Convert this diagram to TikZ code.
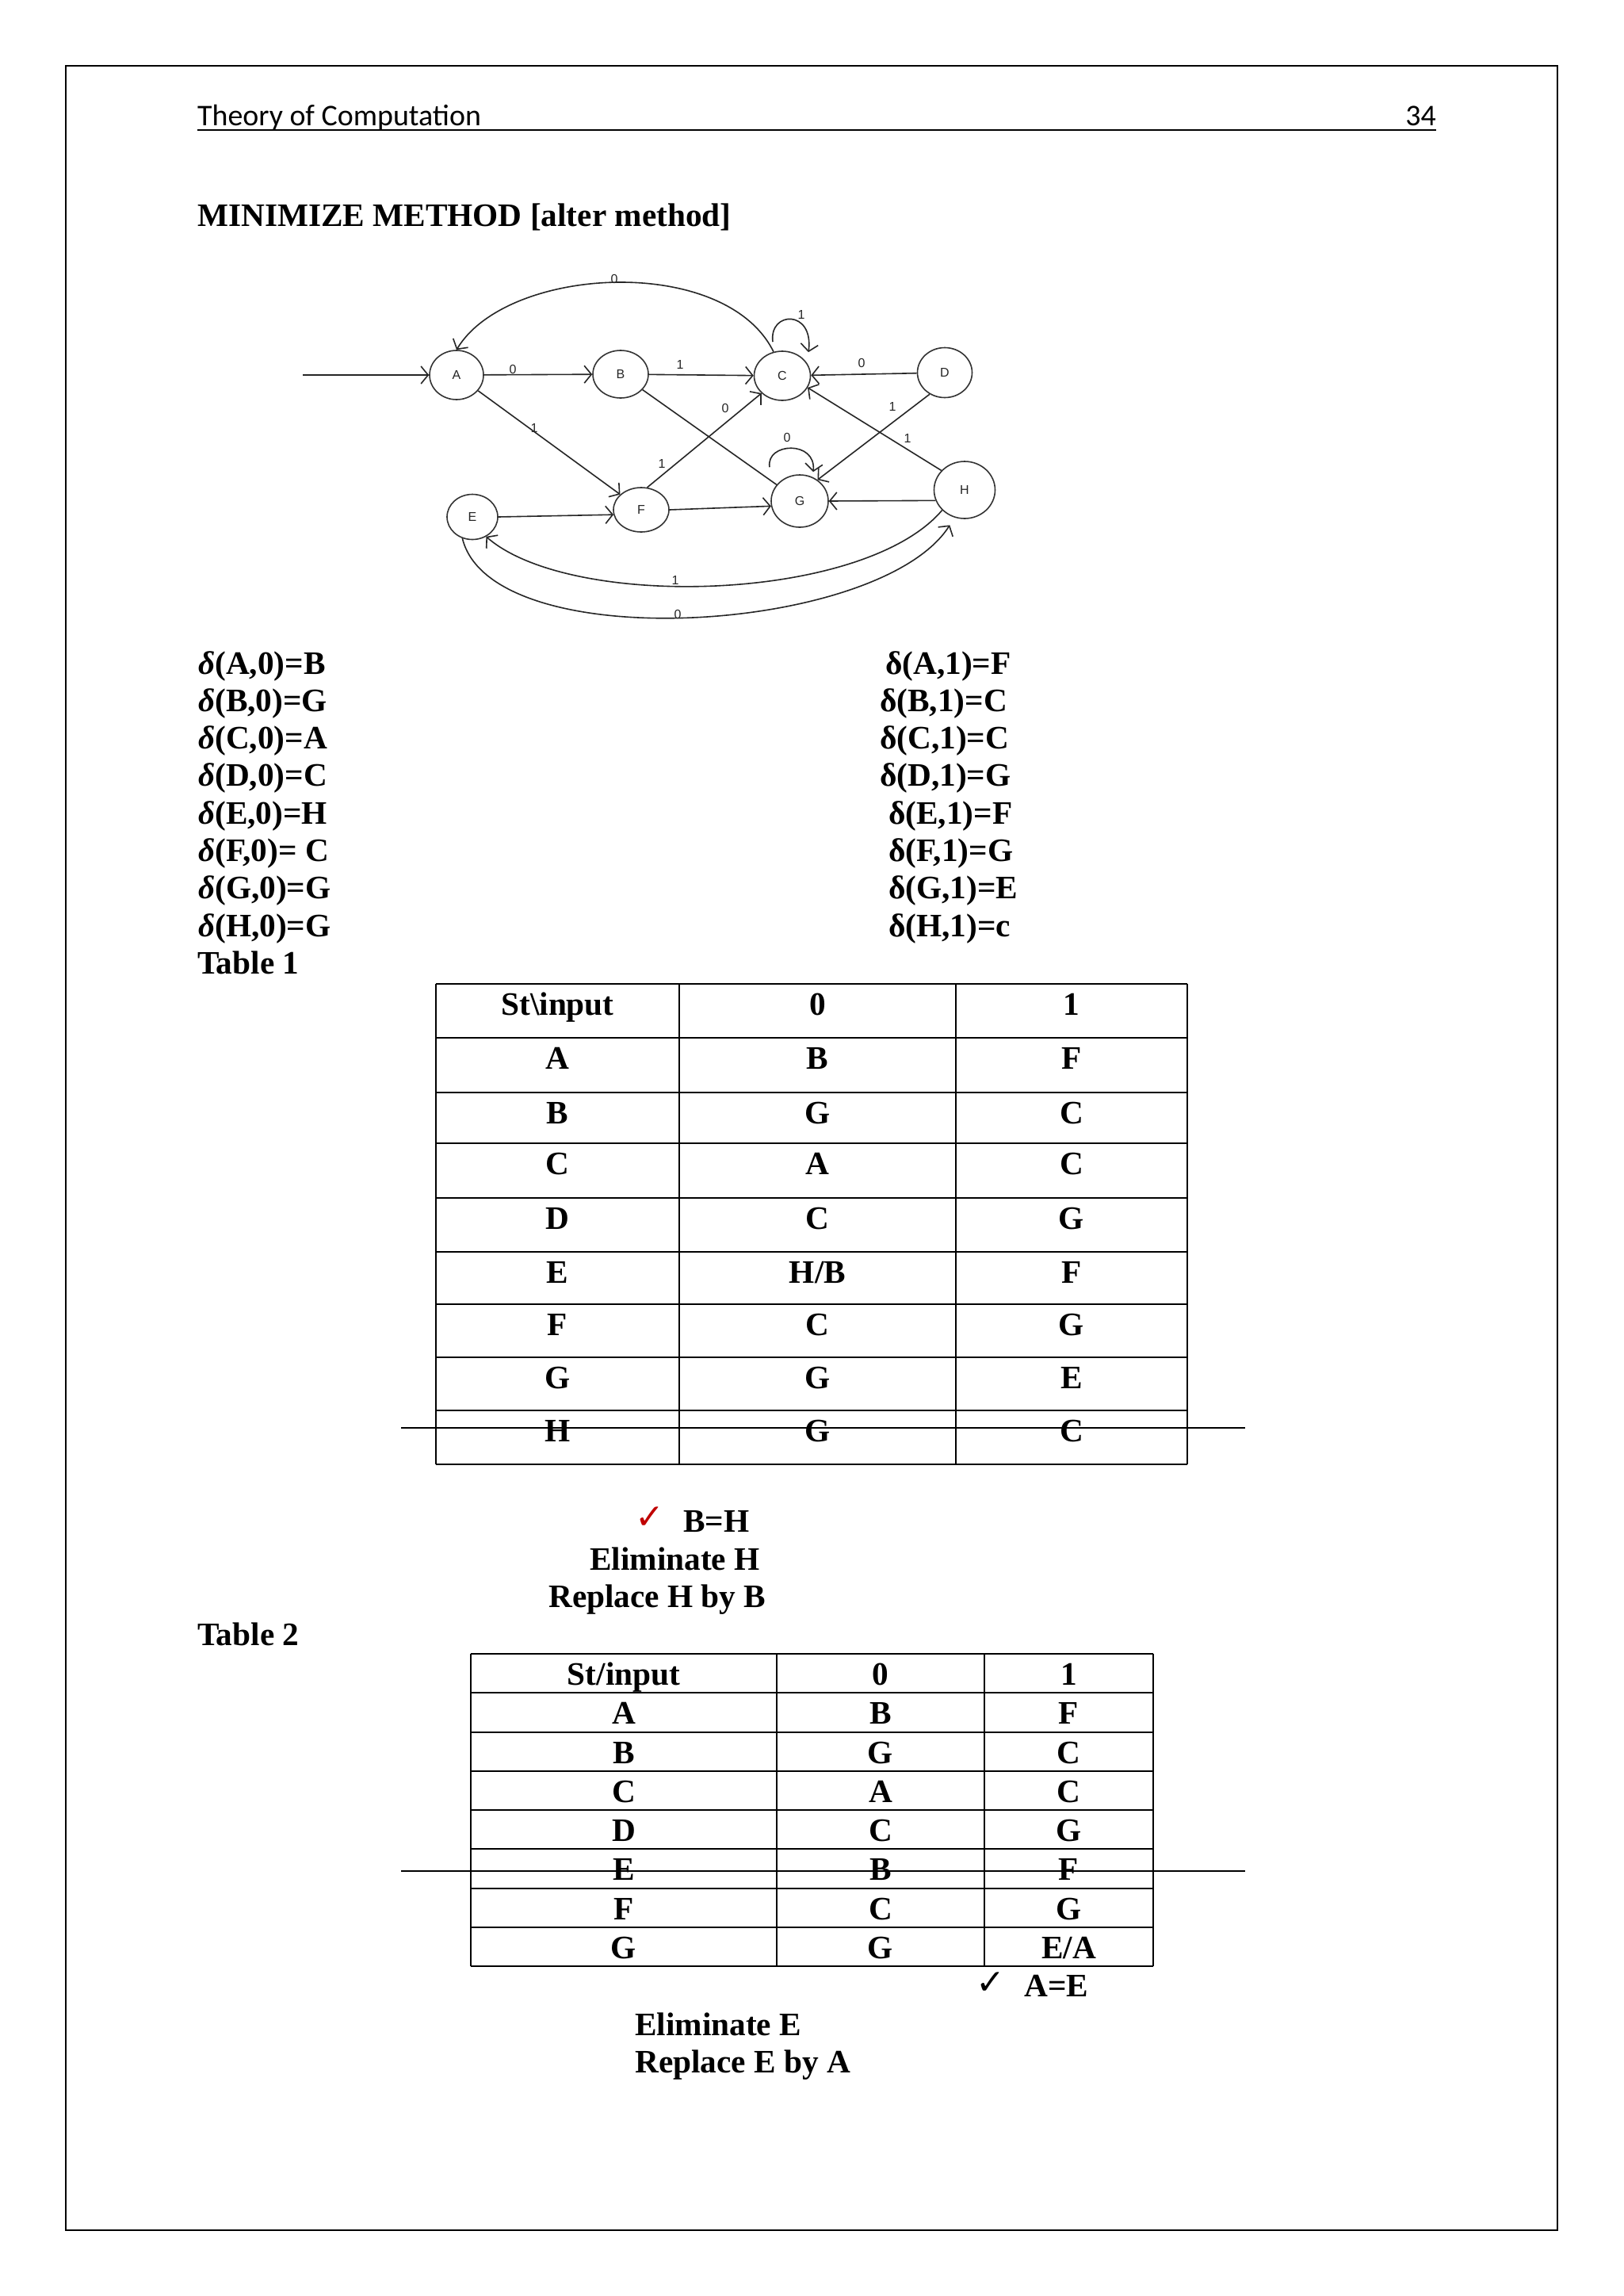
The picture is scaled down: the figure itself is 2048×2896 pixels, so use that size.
\documentclass[tikz,border=0pt]{standalone}
\usepackage{fontspec}
\setmainfont{Liberation Serif}
\newfontfamily\calib{Carlito}
\newfontfamily\djv{DejaVu Sans}
\newfontfamily\lsans{Liberation Sans}
\usetikzlibrary{arrows.meta,shapes.geometric}
\definecolor{chkred}{HTML}{C00000}
\begin{document}
\begin{tikzpicture}[x=1pt,y=-1pt,
  bt/.style={font=\fontsize{41.3pt}{48pt}\selectfont\bfseries, anchor=base west, inner sep=0pt},
  ct/.style={font=\fontsize{41.3pt}{48pt}\selectfont\bfseries, anchor=base, inner sep=0pt},
  hd/.style={font=\calib\fontsize{37.9pt}{44pt}\selectfont, inner sep=0pt},
  st/.style={ellipse, draw=black!80, line width=1.6pt, inner sep=0pt,
    font=\lsans\fontsize{16pt}{18pt}\selectfont, text=black!85},
  lbl/.style={font=\lsans\fontsize{16pt}{18pt}\selectfont, text=black!85, inner sep=0pt},
  ln/.style={draw=black!85, line width=1.6pt},
  arr/.style={ln, -{Straight Barb[length=9pt,width=22pt]}},
  tbl/.style={line width=2.2pt},
  chk/.style={font=\djv\fontsize{44pt}{50pt}\selectfont, anchor=base west, inner sep=0pt}
]
\useasboundingbox[fill=white] (0,0) rectangle (2048,2896);
% page border
\draw[line width=2pt] (83,83) rectangle (1965,2813);
% header
\node[hd, anchor=base west] (hdl) at (249,158) {Theory of Computation};
\node[hd, anchor=base east] (hdr) at (1812,158) {34};
\draw[line width=2.5pt] (249,164) -- (1812,164);
% title
\node[bt] (title) at (249,285) {MINIMIZE METHOD [alter method]};

% ---------- automaton ----------
\node[st, minimum width=68pt, minimum height=62pt] (A) at (576,473) {A};
\node[st, minimum width=70pt, minimum height=60pt] (B) at (783,472) {B};
\node[st, minimum width=71pt, minimum height=62pt] (C) at (987,474) {C};
\node[st, minimum width=69pt, minimum height=63pt] (D) at (1192,470) {D};
\node[st, minimum width=64pt, minimum height=57pt] (E) at (596,652) {E};
\node[st, minimum width=70pt, minimum height=56pt] (F) at (809,643) {F};
\node[st, minimum width=72pt, minimum height=66pt] (G) at (1009,632) {G};
\node[st, minimum width=77pt, minimum height=72pt] (H) at (1217,618) {H};
\coordinate (start) at (382,473);

\draw[arr] (start) -- (A);
\draw[arr] (A) -- (B);
\draw[arr] (B) -- (C);
\draw[arr] (D) -- (C);
\draw[arr] (C.110) .. controls (915,320) and (640,335) .. (A.north);
\draw[arr] ([xshift=-12pt,yshift=11pt]C.north) .. controls (970,392) and (1027,390) .. ([xshift=33pt,yshift=-2pt]C.north);
\draw[arr] (A) -- (F);
\draw[ln] (B) -- (G);
\draw[arr] (F.75) -- (C.220);
\draw[arr] (D.235) -- (G.50);
\draw[arr] (H.140) -- (C.-25);
\draw[arr] (H.200) -- (G.east);
\draw[arr] (E.east) -- (F.190);
\draw[arr] (F.east) -- (G.190);
\draw[arr] ([xshift=-38pt,yshift=9pt]G.north) .. controls (966,558) and (1030,555) .. ([xshift=17pt,yshift=3pt]G.north);
\draw[arr] (E.245) .. controls (620,830) and (1110,800) .. ([yshift=-12pt]H.240);
\draw[arr] (H.222) .. controls (1090,760) and (720,770) .. (E.305);

\node[lbl] (lca) at (775,352) {0};
\node[lbl] (lcc) at (1011,397) {1};
\node[lbl] (lab) at (647,466) {0};
\node[lbl] (lbc) at (858,460) {1};
\node[lbl] (ldc) at (1087,458) {0};
\node[lbl] (laf) at (674,540) {1};
\node[lbl] (lfc) at (915,515) {0};
\node[lbl] (lfc2) at (835,585) {1};
\node[lbl] (lgg) at (993,552) {0};
\node[lbl] (ldg) at (1126,513) {1};
\node[lbl] (lhc) at (1145,553) {1};
\node[lbl] (lhe) at (852,732) {1};
\node[lbl] (leh) at (855,775) {0};

% ---------- transitions ----------
\foreach \k/\lt/\xr/\rt in {0/{(A,0)=B}/1117/{(A,1)=F},1/{(B,0)=G}/1110/{(B,1)=C},
  2/{(C,0)=A}/1110/{(C,1)=C},3/{(D,0)=C}/1110/{(D,1)=G},4/{(E,0)=H}/1121/{(E,1)=F},
  5/{(F,0)= C}/1121/{(F,1)=G},6/{(G,0)=G}/1121/{(G,1)=E},7/{(H,0)=G}/1121/{(H,1)=c}}{
  \node[bt] (dl\k) at (250,850+47.3*\k) {\textit{δ}\lt};
  \node[bt] (dr\k) at (\xr,850+47.3*\k) {δ\rt};
}
\node[bt] (tab1) at (249,1228) {Table 1};

% ---------- table 1 ----------
\foreach \yy in {1241,1309,1378,1442,1511,1579,1645,1712,1779,1847}
  \draw[tbl] (550,\yy) -- (1498,\yy);
\foreach \xx in {550,857,1206,1498}
  \draw[tbl] (\xx,1241) -- (\xx,1847);
\foreach \t/\a/\b/\c [count=\i] in {1241/St\textbackslash input/0/1,1309/A/B/F,1378/B/G/C,
  1442/C/A/C,1511/D/C/G,1579/E/{H/B}/F,1645/F/C/G,1712/G/G/E,1779/H/G/C}{
  \node[ct] (ta\i) at (703.5,\t+39) {\a};
  \node[ct] (tb\i) at (1031.5,\t+39) {\b};
  \node[ct] (tc\i) at (1352,\t+39) {\c};
}
\draw[line width=2.5pt] (506,1801) -- (1571,1801);

% ---------- notes ----------
\node[chk, text=chkred] (chk1) at (801,1928) {✓};
\node[bt] (bh) at (862,1932) {B=H};
\node[bt] (elh) at (744,1980) {Eliminate H};
\node[bt] (rph) at (692,2027) {Replace H by B};
\node[bt] (tab2) at (249,2075) {Table 2};

% ---------- table 2 ----------
\foreach \yy in {2086,2135,2185,2234,2283,2332,2382,2431,2480}
  \draw[tbl] (594,\yy) -- (1455,\yy);
\foreach \xx in {594,980,1242,1455}
  \draw[tbl] (\xx,2086) -- (\xx,2480);
\node[ct] (ua1) at (787,2125) {St/input};
\node[ct] (ub1) at (1111,2125) {0};
\node[ct] (uc1) at (1348.5,2125) {1};
\foreach \t/\a/\b/\c [count=\i from 2] in {2135/A/B/F,2185/B/G/C,
  2234/C/A/C,2283/D/C/G,2332/E/B/F,2382/F/C/G,2431/G/G/{E/A}}{
  \node[ct] (ua\i) at (787,\t+39.5) {\a};
  \node[ct] (ub\i) at (1111,\t+39.5) {\b};
  \node[ct] (uc\i) at (1348.5,\t+39.5) {\c};
}
\draw[line width=2.5pt] (506,2360) -- (1571,2360);

\node[chk] (chk2) at (1231,2515) {✓};
\node[bt] (ae) at (1292,2518) {A=E};
\node[bt] (ele) at (801,2567) {Eliminate E};
\node[bt] (rpe) at (801,2614) {Replace E by A};
\end{tikzpicture}
\end{document}
